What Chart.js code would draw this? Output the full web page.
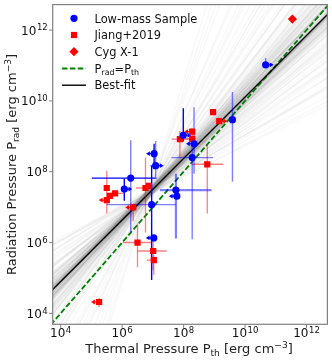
<!DOCTYPE html>
<html><head><meta charset="utf-8">
<script src="https://cdn.jsdelivr.net/npm/chart.js@4.4.1/dist/chart.umd.min.js"></script>
<style>html,body{margin:0;padding:0;background:#fff}</style>
</head><body>
<canvas id="c" width="332" height="361" style="width:332px;height:361px;display:block"></canvas>
<script>
// ---- axis data (log10 values) ----
const xTicks = [4, 6, 8, 10, 12];
const yTicks = [4, 6, 8, 10, 12];
const xRange = [3.74, 12.68];
const yRange = [3.69, 12.72];

// ---- Low-mass sample (log10 values) ----
const blueX   = [10.67, 9.59, 7.99, 8.34, 8.28, 7.04, 7.09, 6.28, 6.07, 6.96, 7.75, 7.78, 7.03];
const blueY   = [11.02, 9.47, 9.03, 8.79, 8.40, 8.51, 8.17, 7.82, 7.51, 7.07, 7.48, 7.31, 6.13];
const blueXlo = [null, null, null, null, 7.61, null, 6.91, 5.01, null, 5.50, 7.23, null, null];
const blueXhi = [null, null, null, null, 8.96, null, 7.28, 7.12, null, 7.75, 8.91, null, null];
const blueYlo = [11.02, 7.72, 8.85, 7.94, 6.09, 8.08, 7.84, 6.28, 7.18, 4.94, 6.11, null, null];
const blueYhi = [11.21, 10.25, 9.79, 9.82, 8.87, 8.79, 8.87, 8.89, 7.80, 8.17, 7.94, null, null];
const blueXdark = [0, 0, 0, 0, 0, 0, 0, 1, 0, 0, 0, 0, 0];
const blueYdark = [0, 0, 1, 0, 0, 1, 0, 0, 1, 1, 0, 0, 0];
const blueArrow = ['R', '', 'R', 'L', '', 'L', 'R', '', 'R', '', '', 'L', 'L'];

// ---- Jiang+2019 (log10 values) ----
const redX   = [8.96, 9.16, 8.28, 8.28, 7.88, 8.77, 5.50, 5.77, 5.60, 5.50, 6.76, 6.87, 6.36, 6.50, 7.01, 7.03, 5.25];
const redY   = [9.68, 9.43, 9.13, 8.93, 8.92, 8.21, 7.54, 7.39, 7.32, 7.20, 7.54, 7.60, 6.99, 6.00, 5.76, 5.50, 4.32];
const redXlo = [null, null, null, 8.05, 7.61, 8.26, null, 5.60, null, null, 6.45, null, null, 6.03, 6.51, 6.80, null];
const redXhi = [null, null, null, 8.40, 8.20, 9.29, null, 6.05, null, null, 7.00, null, null, 6.96, 7.45, 7.12, null];
const redYlo = [null, null, 8.87, null, 8.40, 6.82, 6.82, null, null, null, 6.28, null, 6.60, 5.30, 5.22, 5.08, 4.18];
const redYhi = [null, null, 9.23, null, 9.15, 8.78, 8.03, null, null, null, 8.40, null, 7.10, 6.54, 6.06, 5.64, 4.43];
const redArrow = ['', 'R', 'L', '', '', '', '', '', '', 'L', '', '', 'L', '', '', '', 'L'];

// ---- Cyg X-1 ----
const cygX = [11.54];
const cygY = [12.31];

// ---- best fit and posterior sample lines ----
const fitSlope = 0.869;
const fitIntercept = 1.42;
const pivotX = 6.9;
const graySlopes = [0.87,0.91,0.83,0.95,0.79,1.00,0.86,0.89,0.76,0.97,0.84,0.93,0.81,1.05,0.88,0.72,0.90,0.98,0.85,0.94,
  0.69,1.10,0.82,0.87,0.92,0.78,1.02,0.86,0.64,1.16,0.89,0.80,0.96,0.84,0.75,1.08,0.91,0.58,1.25,0.87,
  0.83,0.99,0.77,1.04,0.88,0.52,1.38,0.85,0.93,0.80,1.01,0.86,0.70,1.13,0.90,0.47,1.55,0.82,0.95,0.88,
  0.74,1.07,0.84,0.61,1.20,0.89,0.79,0.97,1.72,0.55,0.86,0.92,0.81,1.03,0.67,1.30,0.87,2.05,0.90,0.84,
  2.45,0.43,1.45,0.62,2.85,0.50,1.85,0.73,
  0.86,0.88,0.85,0.90,0.84,0.89,0.87,0.91,0.83,0.92,0.86,0.88,0.80,0.94,0.85,0.89,0.82,0.96,0.87,0.90,
  0.78,0.99,0.86,0.84,0.93,0.81,1.01,0.88,0.76,1.06,0.85,0.90,0.83,0.95,0.73,1.11,0.87,0.66,1.19,0.89,
  0.84,0.92,0.79,1.00,0.86,0.57,1.33,0.91,0.82,0.97,0.71,1.09,0.88,0.49,1.62,0.85,0.93,0.77,1.04,0.87,
  0.63,1.24,0.90,0.80,0.98,1.95,0.53,0.86,0.89,0.83,1.02,0.68,1.36,0.88,2.30,0.45,0.91,0.84,1.15,0.74,
  2.65,0.59,1.50,0.87,0.81,0.95,1.78,0.69,0.86,0.92];
const grayOffsets = [0.03,-0.06,0.10,-0.02,0.05,-0.11,0.00,0.08,-0.04,0.13,-0.08,0.02,0.06,-0.13,0.04,-0.01,0.09,-0.07,0.01,0.12,
  -0.05,0.07,-0.10,0.03,-0.03,0.15,-0.09,0.05,0.00,-0.14,0.11,-0.02,0.06,-0.06,0.08,-0.12,0.02,0.16,-0.04,0.04,
  -0.08,0.10,-0.01,0.07,-0.11,0.01,0.13,-0.05,0.09,-0.15,0.03,-0.03,0.12,-0.07,0.05,0.00,-0.09,0.08,-0.02,0.14,
  -0.06,0.02,0.06,-0.10,0.04,-0.13,0.11,-0.04,0.00,0.07,-0.08,0.09,-0.01,0.03,-0.12,0.05,0.10,-0.05,0.01,-0.03,
  0.04,-0.02,0.06,-0.07,0.02,0.08,-0.04,0.01,
  -0.01,0.04,-0.07,0.09,0.02,-0.10,0.06,-0.03,0.12,-0.05,0.01,0.07,-0.08,0.03,-0.12,0.10,-0.02,0.05,-0.06,0.14,
  0.00,-0.09,0.08,-0.04,0.11,-0.01,0.04,-0.13,0.06,-0.07,0.02,0.09,-0.03,0.13,-0.10,0.05,-0.05,0.01,0.08,-0.08,
  0.03,-0.11,0.07,-0.02,0.10,-0.06,0.00,0.12,-0.04,0.06,-0.09,0.02,-0.14,0.09,-0.01,0.04,-0.07,0.11,0.00,-0.03,
  0.07,-0.12,0.05,-0.05,0.01,0.08,-0.08,0.03,-0.02,0.10,-0.06,0.04,0.00,-0.10,0.06,-0.04,0.02,0.09,-0.07,0.01,
  -0.03,0.05,-0.09,0.07,-0.01,0.03,-0.05,0.08,-0.02,0.00];
const lineXs = [3.0, 13.5];

const pw = v => Math.pow(10, v);
const FONT = '"DejaVu Sans", sans-serif';

// build datasets
const datasets = [];
const pivotY = fitIntercept + fitSlope * pivotX;
const nGray = Math.min(graySlopes.length, grayOffsets.length);
for (let i = 0; i < nGray; i++) {
  const s = graySlopes[i], o = grayOffsets[i];
  datasets.push({
    data: lineXs.map(x => ({x: pw(x), y: pw(pivotY + o + s * (x - pivotX))})),
    showLine: true, pointRadius: 0, borderWidth: 1.3, borderColor: 'rgba(120,120,120,0.055)',
    fill: false, tension: 0, order: 20
  });
}
datasets.push({
  label: 'Prad=Pth', data: lineXs.map(x => ({x: pw(x), y: pw(x)})),
  showLine: true, pointRadius: 0, borderWidth: 1.8, borderColor: '#008000', borderDash: [5.5, 2.4],
  fill: false, tension: 0, order: 9
});
const blackIndex = datasets.length;
datasets.push({
  label: 'Best-fit', data: lineXs.map(x => ({x: pw(x), y: pw(fitIntercept + fitSlope * x)})),
  showLine: true, pointRadius: 0, borderWidth: 1.4, borderColor: '#000000',
  fill: false, tension: 0, order: 8
});
datasets.push({
  label: 'Jiang+2019', data: redX.map((v, i) => ({x: pw(v), y: pw(redY[i])})),
  pointStyle: 'rect', pointRadius: 4.4, pointBorderWidth: 0, backgroundColor: '#ff0000', showLine: false, order: 2
});
datasets.push({
  label: 'Low-mass Sample', data: blueX.map((v, i) => ({x: pw(v), y: pw(blueY[i])})),
  pointStyle: 'circle', pointRadius: 3.6, pointBorderWidth: 0, backgroundColor: '#0000ff', showLine: false, order: 1
});
datasets.push({
  label: 'Cyg X-1', data: cygX.map((v, i) => ({x: pw(v), y: pw(cygY[i])})),
  pointStyle: 'rectRot', pointRadius: 4.6, pointBorderWidth: 0, backgroundColor: '#ff0000', showLine: false, order: 0
});

function richText(ctx, parts, x, y, align, size) {
  const sub = size * 0.7;
  let w = 0;
  parts.forEach(p => { ctx.font = (p[1] ? sub : size) + 'px ' + FONT; w += ctx.measureText(p[0]).width; });
  let cx = align === 'center' ? x - w / 2 : (align === 'right' ? x - w : x);
  ctx.textAlign = 'left'; ctx.textBaseline = 'alphabetic';
  parts.forEach(p => {
    ctx.font = (p[1] ? sub : size) + 'px ' + FONT;
    const dy = p[1] === -1 ? size * 0.22 : (p[1] === 1 ? -size * 0.4 : 0);
    ctx.fillText(p[0], cx, y + dy);
    cx += ctx.measureText(p[0]).width;
  });
}

function powLabel(ctx, exp, x, y, align) {
  ctx.font = '12px ' + FONT; const wb = ctx.measureText('10').width;
  ctx.font = '8.5px ' + FONT; const ws = ctx.measureText(String(exp)).width;
  const w = wb + ws + 0.5;
  const x0 = align === 'center' ? x - w / 2 : (align === 'right' ? x - w : x);
  ctx.textAlign = 'left'; ctx.textBaseline = 'alphabetic';
  ctx.font = '12px ' + FONT; ctx.fillText('10', x0, y);
  ctx.font = '8.5px ' + FONT; ctx.fillText(String(exp), x0 + wb + 0.5, y - 4.2);
}

const decor = {
  id: 'decor',
  afterDatasetDraw(chart, args) {
    if (args.index !== blackIndex) return;
    const ctx = chart.ctx, a = chart.chartArea;
    const sx = chart.scales.x, sy = chart.scales.y;
    const X = v => sx.getPixelForValue(pw(v)), Y = v => sy.getPixelForValue(pw(v));
    ctx.save();
    ctx.beginPath(); ctx.rect(a.left, a.top, a.right - a.left, a.bottom - a.top); ctx.clip();
    ctx.lineCap = 'butt';
    const seg = (x1, y1, x2, y2, col, lw) => { ctx.strokeStyle = col; ctx.lineWidth = lw; ctx.beginPath(); ctx.moveTo(x1, y1); ctx.lineTo(x2, y2); ctx.stroke(); };
    const arrow = (px, py, dir, col) => {
      const L = 7, h = 2.4, ex = px + dir * L;
      seg(px, py, ex - dir * 1, py, col, 1.2);
      ctx.fillStyle = col; ctx.beginPath();
      ctx.moveTo(ex + dir * 1, py); ctx.lineTo(ex - dir * 2.8, py - h); ctx.lineTo(ex - dir * 2.8, py + h); ctx.closePath(); ctx.fill();
    };
    const LB = 'rgba(0,0,255,0.5)', DB = '#0000ff', LR = 'rgba(255,0,0,0.5)';
    redX.forEach((v, i) => {
      const px = X(v), py = Y(redY[i]);
      if (redXlo[i] != null) seg(X(redXlo[i]), py, X(redXhi[i]), py, LR, 1.3);
      if (redYlo[i] != null) seg(px, Y(redYlo[i]), px, Y(redYhi[i]), LR, 1.3);
      if (redArrow[i]) arrow(px, py, redArrow[i] === 'L' ? -1 : 1, '#ff0000');
    });
    blueX.forEach((v, i) => {
      const px = X(v), py = Y(blueY[i]);
      if (blueXlo[i] != null) seg(X(blueXlo[i]), py, X(blueXhi[i]), py, blueXdark[i] ? DB : LB, i === 10 ? 2.4 : 1.3);
      if (blueYlo[i] != null) seg(px, Y(blueYlo[i]), px, Y(blueYhi[i]), blueYdark[i] ? DB : LB, i === 10 ? 2.2 : 1.4);
      if (blueArrow[i]) arrow(px, py, blueArrow[i] === 'L' ? -1 : 1, '#0000ff');
    });
    ctx.restore();
  },
  afterDraw(chart) {
    const ctx = chart.ctx, a = chart.chartArea;
    const sx = chart.scales.x, sy = chart.scales.y;
    ctx.save();
    // frame
    ctx.strokeStyle = '#808080'; ctx.lineWidth = 1.2;
    ctx.strokeRect(a.left, a.top, a.right - a.left, a.bottom - a.top);
    // ticks
    ctx.lineWidth = 1;
    ctx.fillStyle = '#111';
    xTicks.forEach(t => {
      const px = sx.getPixelForValue(pw(t));
      ctx.beginPath(); ctx.moveTo(px, a.bottom); ctx.lineTo(px, a.bottom + 3.5); ctx.stroke();
      powLabel(ctx, t, px, a.bottom + 12.4, 'center');
    });
    yTicks.forEach(t => {
      const py = sy.getPixelForValue(pw(t));
      ctx.beginPath(); ctx.moveTo(a.left, py); ctx.lineTo(a.left - 3.5, py); ctx.stroke();
      powLabel(ctx, t, a.left - 5, py + 4.5, 'right');
    });
    // axis titles
    ctx.fillStyle = '#222';
    richText(ctx, [['Thermal Pressure P', 0], ['th', -1], [' [erg cm', 0], ['\u22123', 1], [']', 0]],
      (a.left + a.right) / 2 - 1, 352.8, 'center', 13);
    ctx.save();
    ctx.translate(16, (a.top + a.bottom) / 2); ctx.rotate(-Math.PI / 2);
    richText(ctx, [['Radiation Pressure P', 0], ['rad', -1], [' [erg cm', 0], ['\u22123', 1], [']', 0]], 0, 0, 'center', 13);
    ctx.restore();
    // legend
    const lx = 74, tx = 94.5, rows = [18.3, 35.0, 51.7, 68.5, 85.2];
    ctx.fillStyle = '#0000ff'; ctx.beginPath(); ctx.arc(lx, rows[0], 3.6, 0, Math.PI * 2); ctx.fill();
    ctx.fillStyle = '#ff0000'; ctx.fillRect(lx - 3.1, rows[1] - 3.1, 6.2, 6.2);
    ctx.beginPath(); ctx.moveTo(lx, rows[2] - 4.6); ctx.lineTo(lx + 4.6, rows[2]); ctx.lineTo(lx, rows[2] + 4.6); ctx.lineTo(lx - 4.6, rows[2]); ctx.closePath(); ctx.fill();
    ctx.strokeStyle = '#008000'; ctx.lineWidth = 1.8; ctx.setLineDash([5.5, 2.4]);
    ctx.beginPath(); ctx.moveTo(62, rows[3]); ctx.lineTo(86, rows[3]); ctx.stroke();
    ctx.setLineDash([]); ctx.strokeStyle = '#000'; ctx.lineWidth = 1.4;
    ctx.beginPath(); ctx.moveTo(62, rows[4]); ctx.lineTo(86, rows[4]); ctx.stroke();
    ctx.fillStyle = '#111';
    const LF = 11.4;
    richText(ctx, [['Low-mass Sample', 0]], tx, rows[0] + 4.2, 'left', LF);
    richText(ctx, [['Jiang+2019', 0]], tx, rows[1] + 4.2, 'left', LF);
    richText(ctx, [['Cyg X-1', 0]], tx, rows[2] + 4.2, 'left', LF);
    richText(ctx, [['P', 0], ['rad', -1], ['=P', 0], ['th', -1]], tx, rows[3] + 4.2, 'left', LF);
    richText(ctx, [['Best-fit', 0]], tx, rows[4] + 4.2, 'left', LF);
    ctx.restore();
  }
};

new Chart(document.getElementById('c'), {
  type: 'scatter',
  data: {datasets},
  options: {
    responsive: false, animation: false, devicePixelRatio: 1, events: [],
    layout: {padding: {left: 0, top: 3.5, right: 4.3, bottom: 0}},
    plugins: {legend: {display: false}, tooltip: {enabled: false}},
    scales: {
      x: {type: 'logarithmic', min: pw(xRange[0]), max: pw(xRange[1]), bounds: 'data',
          ticks: {display: false}, grid: {display: false}, border: {display: false},
          afterFit: s => { s.height = 36.7; }},
      y: {type: 'logarithmic', min: pw(yRange[0]), max: pw(yRange[1]), bounds: 'data',
          ticks: {display: false}, grid: {display: false}, border: {display: false},
          afterFit: s => { s.width = 52.7; }}
    }
  },
  plugins: [decor]
});
</script>
</body></html>
